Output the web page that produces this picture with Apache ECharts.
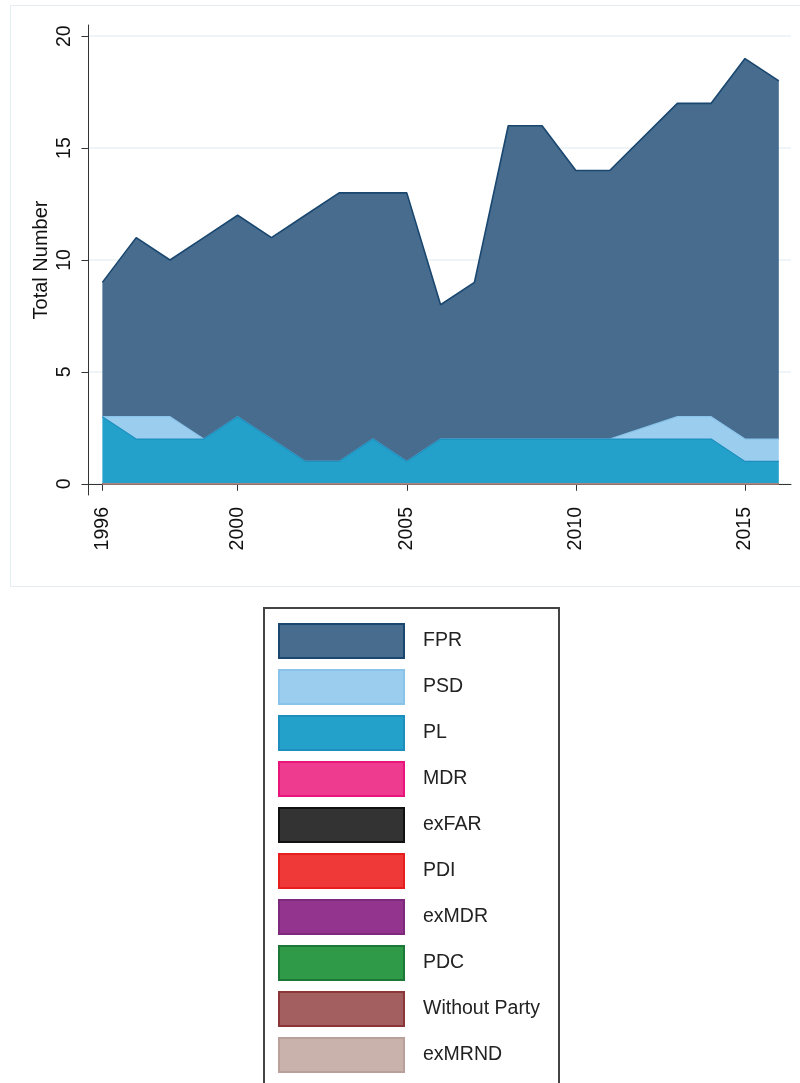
<!DOCTYPE html>
<html>
<head>
<meta charset="utf-8">
<script src="https://cdn.jsdelivr.net/npm/echarts@6/dist/echarts.min.js"></script>
<style>
html,body{margin:0;padding:0;background:#fff;}
#c{width:800px;height:1083px;}
</style>
</head>
<body>
<div id="c"></div>
<script>
// Years; 2012 has no observation (null) and the line joins 2011 and 2013
const years = ['1996','1997','1998','1999','2000','2001','2002','2003','2004','2005','2006','2007','2008','2009','2010','2011','2012','2013','2014','2015','2016'];
const FPR   = [6,8,7,9,9,9,11,12,11,12,6,7,14,14,12,12,null,14,14,17,16];
const PSD   = [0,1,1,0,0,0,0,0,0,0,0,0,0,0,0,0,null,1,1,1,1];
const PL    = [3,2,2,2,3,2,1,1,2,1,2,2,2,2,2,2,null,2,2,1,1];
const MDR   = [0,0,0,0,0,0,0,0,0,0,0,0,0,0,0,0,null,0,0,0,0];
const exFAR = [0,0,0,0,0,0,0,0,0,0,0,0,0,0,0,0,null,0,0,0,0];
const PDI   = [0,0,0,0,0,0,0,0,0,0,0,0,0,0,0,0,null,0,0,0,0];
const exMDR = [0,0,0,0,0,0,0,0,0,0,0,0,0,0,0,0,null,0,0,0,0];
const PDC   = [0,0,0,0,0,0,0,0,0,0,0,0,0,0,0,0,null,0,0,0,0];
const withoutParty = [0,0,0,0,0,0,0,0,0,0,0,0,0,0,0,0,null,0,0,0,0];
const exMRND = [0,0,0,0,0,0,0,0,0,0,0,0,0,0,0,0,null,0,0,0,0];

const yTicks = [0,5,10,15,20];
const xTicks = [1996,2000,2005,2010,2015];

// legend order (top to bottom) = FPR ... exMRND
const parties = [
  {name:'FPR', data:FPR, fill:'#476c8e', line:'#1a476f'},
  {name:'PSD', data:PSD, fill:'#9bcdee', line:'#8ac3ea'},
  {name:'PL', data:PL, fill:'#23a1cb', line:'#1c8fbf'},
  {name:'MDR', data:MDR, fill:'#ee3a8f', line:'#e8157d'},
  {name:'exFAR', data:exFAR, fill:'#333333', line:'#111111'},
  {name:'PDI', data:PDI, fill:'#ef3838', line:'#e61e1e'},
  {name:'exMDR', data:exMDR, fill:'#93358f', line:'#7e2a7c'},
  {name:'PDC', data:PDC, fill:'#2f9a47', line:'#1b7836'},
  {name:'Without Party', data:withoutParty, fill:'#a35e5f', line:'#8b3739'},
  {name:'exMRND', data:exMRND, fill:'#c9b1ac', line:'#b9a09b'}
];

const font = 'Liberation Sans, Arial, sans-serif';

// outer (display) grid and value-axis range
const W = 800;
const G = {left: 88.5, right: 9, top: 25, bottom: 588};
const xMin = 1995.59, xMax = 2016.36;
const pxPerYear = (W - G.left - G.right) / (xMax - xMin);
const firstYear = +years[0], lastYear = +years[years.length - 1];
// inner (data) grid spans exactly first..last year of the category axis
const G2 = {
  left: G.left + (firstYear - xMin) * pxPerYear,
  right: G.right + (xMax - lastYear) * pxPerYear,
  top: G.top, bottom: G.bottom
};

// stack: bottom-most first (exMRND ... FPR); draw order: FPR first, exMRND last
const stackOrder = parties.slice().reverse();
const series = stackOrder.map(p => {
  const drawIdx = parties.indexOf(p);
  return {
    name: p.name,
    type: 'line',
    xAxisIndex: 1,
    yAxisIndex: 1,
    stack: 'total',
    symbol: 'none',
    connectNulls: true,
    z: 2 + drawIdx,
    data: p.data,
    lineStyle: {color: p.line, width: p.name === 'FPR' ? 1.6 : 1.2},
    itemStyle: {color: p.fill},
    areaStyle: {color: p.fill, opacity: 1},
    emphasis: {disabled: true}
  };
});

const chart = echarts.init(document.getElementById('c'), null, {renderer:'canvas'});
chart.setOption({
  animation: false,
  backgroundColor: '#fff',
  textStyle: {fontFamily: font},
  graphic: [
    {type:'rect', shape:{x:10.5, y:5.5, width:800, height:581}, style:{fill:'none', stroke:'#e4edef', lineWidth:1}, z:0},
    {type:'rect', shape:{x:264, y:608, width:295, height:520}, style:{fill:'none', stroke:'#444', lineWidth:2}, z:0}
  ],
  grid: [
    Object.assign({outerBoundsMode: 'none'}, G),
    Object.assign({outerBoundsMode: 'none'}, G2)
  ],
  xAxis: [{
    type: 'value',
    gridIndex: 0,
    min: xMin,
    max: xMax,
    axisLine: {show:true, lineStyle:{color:'#333', width:1}},
    axisTick: {show:true, length:7, lineStyle:{color:'#333'}, customValues: xTicks},
    axisLabel: {rotate: 90, margin: 12, fontSize: 19.5, color:'#111', fontFamily: font, customValues: xTicks, formatter: v => String(v)},
    splitLine: {show:false}
  }, {
    type: 'category',
    gridIndex: 1,
    data: years,
    boundaryGap: false,
    show: false
  }],
  yAxis: [{
    type: 'value',
    gridIndex: 0,
    min: -0.5,
    max: 20.5,
    name: 'Total Number',
    nameLocation: 'middle',
    nameGap: 37,
    nameMoveOverlap: false,
    nameRotate: 90,
    nameTextStyle: {fontSize: 20, color:'#111', fontFamily: font},
    axisLine: {show:true, lineStyle:{color:'#333', width:1}},
    axisTick: {show:true, length:7, lineStyle:{color:'#333'}, customValues: yTicks},
    axisLabel: {rotate: 90, margin: 14, fontSize: 19.5, color:'#111', fontFamily: font, customValues: yTicks},
    splitLine: {show:true, lineStyle:{color:'#eaf2f3', width:1.5}}
  }, {
    type: 'value',
    gridIndex: 1,
    min: -0.5,
    max: 20.5,
    show: false,
    splitLine: {show:false}
  }],
  legend: {
    orient: 'vertical',
    left: 278,
    top: 623,
    height: 540,
    padding: 0,
    itemWidth: 125,
    itemHeight: 34,
    itemGap: 10,
    icon: 'rect',
    selectedMode: false,
    textStyle: {fontSize: 19.5, color:'#222', fontFamily: font, padding:[0,0,0,14]},
    data: parties.map(p => ({name: p.name, itemStyle: {color: p.fill, borderColor: p.line, borderWidth: 2}}))
  },
  series: series
});
</script>
</body>
</html>
